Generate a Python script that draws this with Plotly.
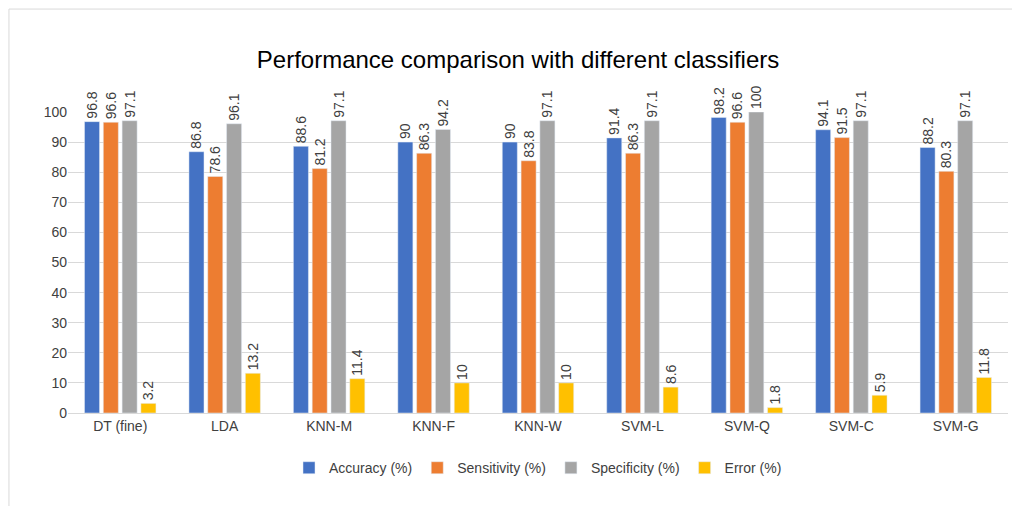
import plotly.graph_objects as go

classifiers = ["DT (fine)", "LDA", "KNN-M", "KNN-F", "KNN-W", "SVM-L", "SVM-Q", "SVM-C", "SVM-G"]
accuracy = [96.8, 86.8, 88.6, 90, 90, 91.4, 98.2, 94.1, 88.2]
sensitivity = [96.6, 78.6, 81.2, 86.3, 83.8, 86.3, 96.6, 91.5, 80.3]
specificity = [97.1, 96.1, 97.1, 94.2, 97.1, 97.1, 100, 97.1, 97.1]
error = [3.2, 13.2, 11.4, 10, 10, 8.6, 1.8, 5.9, 11.8]

series = [
    ("Accuracy (%)", accuracy, "#4472C4"),
    ("Sensitivity (%)", sensitivity, "#ED7D31"),
    ("Specificity (%)", specificity, "#A5A5A5"),
    ("Error (%)", error, "#FFC000"),
]

fig = go.Figure()
for name, vals, col in series:
    fig.add_trace(go.Bar(
        x=classifiers, y=vals, name=name, marker_color=col,
        text=[f"{v:g}" for v in vals], textposition="outside",
        textangle=-90, cliponaxis=False,
        textfont=dict(size=14, color="#404040"),
    ))

fig.update_layout(
    width=1020, height=506,
    paper_bgcolor="white", plot_bgcolor="white",
    font=dict(family="Liberation Sans, Arial", size=14, color="#404040"),
    title=dict(text="Performance comparison with different classifiers",
               x=0.5, y=0.915, xanchor="center", font=dict(size=24, color="#000")),
    margin=dict(l=60, r=20, t=104, b=101, autoexpand=False),
    uniformtext=dict(minsize=14, mode="show"),
    barmode="group", bargap=0.28, bargroupgap=0.2,
    legend=dict(orientation="h", x=0.5, xanchor="center", y=-0.13, yanchor="top",
                font=dict(size=14)),
    shapes=[dict(type="rect", xref="paper", yref="paper",
                 x0=-0.0628, x1=1.019, y0=-0.326, y1=1.342,
                 line=dict(color="#D9D9D9", width=1))],
)
fig.update_yaxes(range=[0, 100], dtick=10, gridcolor="#D9D9D9", zeroline=False,
                 showline=False, tickfont=dict(size=14))
fig.update_xaxes(showline=True, linecolor="#D9D9D9", tickfont=dict(size=14))

fig.write_html("out.html")
